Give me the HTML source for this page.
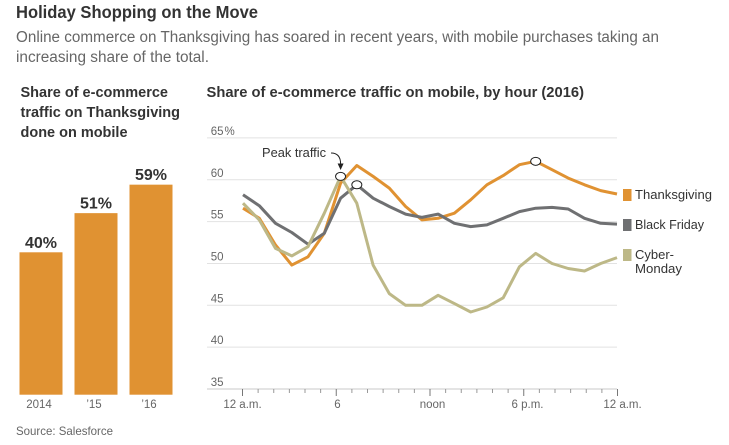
<!DOCTYPE html>
<html lang="en">
<head>
<meta charset="utf-8">
<title>Holiday Shopping on the Move</title>
<style>
html,body{margin:0;padding:0;background:#fff;width:729px;height:445px;overflow:hidden}
svg{display:block}
text{font-family:"Liberation Sans",sans-serif}
.h{font-weight:bold;fill:#333;font-size:14.5px}
.t{fill:#666;font-size:11.5px}
.l{fill:#333;font-size:13px}
</style>
</head>
<body>
<svg id="chart" width="729" height="445" viewBox="0 0 729 445" xmlns="http://www.w3.org/2000/svg">
  <rect width="729" height="445" fill="#fff"/>
  <text x="16" y="18" font-size="17.5" font-weight="bold" fill="#333" textLength="242" lengthAdjust="spacingAndGlyphs">Holiday Shopping on the Move</text>
  <text x="16" y="42" font-size="15.5" fill="#666" textLength="643" lengthAdjust="spacingAndGlyphs">Online commerce on Thanksgiving has soared in recent years, with mobile purchases taking an</text>
  <text x="16" y="62" font-size="15.5" fill="#666" textLength="193" lengthAdjust="spacingAndGlyphs">increasing share of the total.</text>

  <text class="h" x="20.5" y="97" textLength="147.5" lengthAdjust="spacingAndGlyphs">Share of e-commerce</text>
  <text class="h" x="20.5" y="117" textLength="159.5" lengthAdjust="spacingAndGlyphs">traffic on Thanksgiving</text>
  <text class="h" x="20.5" y="137" textLength="107" lengthAdjust="spacingAndGlyphs">done on mobile</text>
  <text class="h" x="206.5" y="97" textLength="377.5" lengthAdjust="spacingAndGlyphs">Share of e-commerce traffic on mobile, by hour (2016)</text>

  <g id="bars"></g>
  <g id="grid"></g>
  <g id="xaxis"></g>
  <g id="lines"></g>
  <g id="markers"></g>

  <text x="262" y="157" font-size="13" fill="#333" textLength="64" lengthAdjust="spacingAndGlyphs">Peak traffic</text>
  <path d="M331 153 C337 153 340.6 156 340.6 164" fill="none" stroke="#222" stroke-width="1"/>
  <path d="M337.6 163.5 L343.6 163.5 L340.6 170 Z" fill="#222"/>

  <rect x="623" y="189" width="8.5" height="12" fill="#E09232"/>
  <text class="l" x="635" y="199" textLength="77" lengthAdjust="spacingAndGlyphs">Thanksgiving</text>
  <rect x="623" y="219" width="8.5" height="12" fill="#6F7072"/>
  <text class="l" x="635" y="229" textLength="69" lengthAdjust="spacingAndGlyphs">Black Friday</text>
  <rect x="623" y="249" width="8.5" height="12" fill="#BDB887"/>
  <text class="l" x="635" y="259" textLength="39" lengthAdjust="spacingAndGlyphs">Cyber-</text>
  <text class="l" x="635" y="273" textLength="47" lengthAdjust="spacingAndGlyphs">Monday</text>

  <text x="16" y="435" font-size="12" fill="#666" textLength="97" lengthAdjust="spacingAndGlyphs">Source: Salesforce</text>
</svg>
<script>
var barCategories = ["2014", "\u201915", "\u201916"];
var barValues = [40, 51, 59];
var yTicks = [65, 60, 55, 50, 45, 40, 35];
var xTickHours = [0, 6, 12, 18, 24];
var xTickLabels = ["12 a.m.", "6", "noon", "6 p.m.", "12 a.m."];
var hours = [0,1,2,3,4,5,6,7,8,9,10,11,12,13,14,15,16,17,18,19,20,21,22,23];
var blackFriday = [58.2,56.9,54.8,53.7,52.3,53.6,57.8,59.4,57.8,56.8,55.9,55.5,55.9,54.8,54.4,54.6,55.4,56.2,56.6,56.7,56.5,55.4,54.8,54.7];
var thanksgiving = [56.6,55.4,52.2,49.8,50.8,53.6,59.6,61.7,60.4,59.0,56.8,55.2,55.4,56.0,57.6,59.4,60.5,61.8,62.2,61.2,60.2,59.4,58.7,58.3];
var cyberMonday = [57.2,55.2,51.8,50.9,52.0,56.0,60.4,57.2,49.8,46.4,45.0,45.0,46.2,45.2,44.2,44.8,45.9,49.6,51.2,50.0,49.4,49.1,50.0,50.7];

var NS = "http://www.w3.org/2000/svg";
function make(parent, tag, attrs) {
  var el = document.createElementNS(NS, tag);
  for (var k in attrs) { el.setAttribute(k, attrs[k]); }
  parent.appendChild(el);
  return el;
}
function yScale(v) { return 389 - (v - 35) * 8.37; }
function xAxisScale(h) { return 242.5 + h * 15.625; }
function xDataScale(h) { return 243 + h * (374 / 23); }
function barTop(v) { return 394.7 - v * 3.56; }

var barsG = document.getElementById("bars");
barValues.forEach(function (v, i) {
  var left = 19.5 + i * 55;
  var bar = make(barsG, "rect", { x: left, y: barTop(v), width: 43, height: 394.7 - barTop(v), fill: "#E09232" });
  
  
  var val = make(barsG, "text", { x: left + 21.5, y: barTop(v) - 4.5, "text-anchor": "middle", "font-size": "16", "font-weight": "bold", fill: "#333" });
  val.textContent = v + "%";
  
  
  var cat = make(barsG, "text", { x: left + 19.5, y: 408, "text-anchor": "middle", "class": "t" });
  cat.textContent = barCategories[i];
  
  
});

var gridG = document.getElementById("grid");
yTicks.forEach(function (v, i) {
  var y = yScale(v);
  var line = make(gridG, "line", { x1: 207, x2: 617, y1: y, y2: y, stroke: v === 35 ? "#c8c8c8" : "#e2e2e2", "stroke-width": "1" });
  
  
  var label = make(gridG, "text", { x: 223.5, y: y - 3, "text-anchor": "end", "class": "t" });
  label.textContent = v;
  
  
  if (i === 0) {
    var pct = make(gridG, "text", { x: 224.5, y: y - 3, "class": "t" });
    pct.textContent = "%";
    
    
  }
});

var xG = document.getElementById("xaxis");
for (var h = 0; h <= 24; h++) {
  var major = xTickHours.indexOf(h) >= 0;
  var tick = make(xG, "line", { x1: xAxisScale(h), x2: xAxisScale(h), y1: 389, y2: major ? 396 : 393, stroke: major ? "#777" : "#999", "stroke-width": "1" });
  
  
}
xTickHours.forEach(function (th, i) {
  var label = make(xG, "text", { x: xAxisScale(th) + th * 0.21, y: 408, "text-anchor": "middle", "class": "t" });
  label.textContent = xTickLabels[i];
  
  
});

var linesG = document.getElementById("lines");
function drawSeries(values, color, name) {
  var d = values.map(function (v, i) { return xDataScale(hours[i]).toFixed(1) + "," + yScale(v).toFixed(1); }).join(" ");
  var line = make(linesG, "polyline", { points: d, fill: "none", stroke: color, "stroke-width": "3", "stroke-linejoin": "round" });
  
  
}
drawSeries(thanksgiving, "#E09232", "line-thanksgiving");
drawSeries(blackFriday, "#6F7072", "line-black-friday");
drawSeries(cyberMonday, "#BDB887", "line-cyber-monday");

var markersG = document.getElementById("markers");
function drawPeak(values, name) {
  var peak = values.indexOf(Math.max.apply(null, values));
  var m = make(markersG, "ellipse", { cx: xDataScale(hours[peak]), cy: yScale(values[peak]), rx: 5, ry: 4, fill: "#fff", stroke: "#222", "stroke-width": "1" });
  
  
}
drawPeak(cyberMonday, "peak-marker-cyber-monday");
drawPeak(blackFriday, "peak-marker-black-friday");
drawPeak(thanksgiving, "peak-marker-thanksgiving");
</script>
</body>
</html>
